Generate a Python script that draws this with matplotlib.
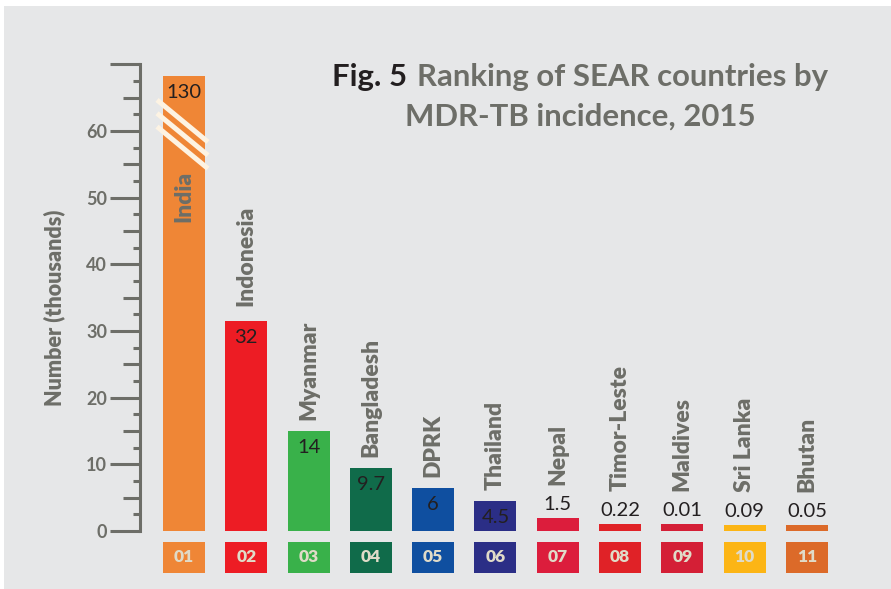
import matplotlib
matplotlib.use("Agg")
import matplotlib.pyplot as plt
from matplotlib.patches import Rectangle
from matplotlib.offsetbox import TextArea, HPacker, VPacker, AnnotationBbox
from matplotlib.ticker import FixedLocator, FuncFormatter
import numpy as np

plt.rcParams["font.family"] = ["Lato", "DejaVu Sans"]

GRAY = "#6d6e68"
DARK = "#231f20"
BG = "#e6e7e8"

countries = ["India", "Indonesia", "Myanmar", "Bangladesh", "DPRK", "Thailand",
             "Nepal", "Timor-Leste", "Maldives", "Sri Lanka", "Bhutan"]
value_labels = ["130", "32", "14", "9.7", "6", "4.5",
                "1.5", "0.22", "0.01", "0.09", "0.05"]
# heights as drawn in the figure (thousands); India is cut by the axis break
bar_heights = [68.3, 31.5, 15.0, 9.4, 6.4, 4.5, 1.9, 1.0, 1.0, 0.9, 0.9]
ranks = ["01", "02", "03", "04", "05", "06", "07", "08", "09", "10", "11"]
colors = ["#ef8636", "#ed1c24", "#39b14a", "#106b4a", "#0f4fa0", "#2b2e86",
          "#dc1d3c", "#e02227", "#d41f36", "#fcb515", "#dc6a29"]

fig = plt.figure(figsize=(8.91, 5.89), dpi=100)
fig.patch.set_facecolor("white")
fig.patches.append(Rectangle((4 / 891, 0), 1, 1 - 6 / 589, transform=fig.transFigure,
                             facecolor=BG, edgecolor="none", zorder=-10))

ax = fig.add_axes([0.1016, 0.008, 0.867, 0.9055])
ax.set_facecolor("none")
x = np.arange(len(countries))
width = 0.675
ax.set_xlim(-1.5, 10.9)
ax.set_ylim(-8, 72)

bars = ax.bar(x, bar_heights, width, color=colors)
# rank boxes under the axis
ax.bar(x, [4.65] * len(x), width, bottom=-6.3, color=colors)
for xi, r in zip(x, ranks):
    ax.text(xi, -3.95, r, ha="center", va="center", color="#e0dbc8",
            fontsize=12.5, fontweight="heavy")

# value + country labels
for i, (h, v, c) in enumerate(zip(bar_heights, value_labels, countries)):
    if h >= 4:
        ax.annotate(v, (i, h), xytext=(0, -12), textcoords="offset points",
                    ha="center", va="center", fontsize=14.5, color=DARK)
        if i == 0:
            continue
        off = 11 if i == 1 else 8
    else:
        ax.annotate(v, (i, h), xytext=(0, 10), textcoords="offset points",
                    ha="center", va="center", fontsize=14.5, color=DARK)
        off = 24
    ax.annotate(c, (i, h), xytext=(0, off), textcoords="offset points",
                ha="center", va="bottom", rotation=90, fontsize=16.5,
                fontweight="heavy", color=GRAY)

# India name inside its bar, below the break
ax.text(0, 46.3, countries[0], ha="center", va="bottom", rotation=90,
        fontsize=16.5, fontweight="heavy", color=GRAY)

# axis break stripes across the India bar
for ym in [61.5, 59.5, 57.5]:
    ax.plot([-0.433, 0.385], [ym + 3.15, ym - 3.15], color="#fdf3e3",
            linewidth=3.6, solid_capstyle="butt", zorder=3)

# y axis
spine_x = (140 - 184) / 62.3
for s in ["top", "right", "bottom"]:
    ax.spines[s].set_visible(False)
ax.spines["left"].set_position(("data", spine_x))
ax.spines["left"].set_bounds(0, 70)
ax.spines["left"].set_color(GRAY)
ax.spines["left"].set_linewidth(2.2)
ax.set_xticks([])
ax.yaxis.set_major_locator(FixedLocator(np.arange(0, 71, 10)))
ax.yaxis.set_major_formatter(FuncFormatter(lambda v, p: "" if v > 65 else f"{v:.0f}"))
minors = [m for m in np.arange(2.5, 70, 2.5) if m % 5 != 0]
ax.yaxis.set_minor_locator(FixedLocator(minors))
ax.tick_params(axis="y", which="major", length=21.6, width=2.2, color=GRAY,
               labelcolor=GRAY, labelsize=13, pad=2)
ax.tick_params(axis="y", which="minor", length=5, width=2.2, color=GRAY)
for lbl in ax.get_yticklabels():
    lbl.set_fontweight("bold")
ax.hlines(np.arange(5, 70, 10), spine_x - 0.273, spine_x, color=GRAY,
          linewidth=2.2, zorder=2)

fig.text(54 / 891, 1 - 308 / 589, "Number (thousands)", rotation=90,
         ha="center", va="center", fontsize=15.5, fontweight="heavy", color=GRAY)

# title
tprops = dict(fontsize=22.4, fontweight="bold")
t_fig = TextArea("Fig. 5", textprops=dict(color=DARK, **tprops))
t_rest = TextArea("Ranking of SEAR countries by", textprops=dict(color=GRAY, **tprops))
line1 = HPacker(children=[t_fig, t_rest], pad=0, sep=7, align="baseline")
line2 = TextArea("MDR-TB incidence, 2015", textprops=dict(color=GRAY, **tprops))
title = VPacker(children=[line1, line2], pad=0, sep=8, align="center")
fig.add_artist(AnnotationBbox(title, (580 / 891, 1 - 63 / 589), xycoords="figure fraction",
                              box_alignment=(0.5, 1), frameon=False))

fig.savefig("out.png", dpi=100, facecolor=fig.get_facecolor())
